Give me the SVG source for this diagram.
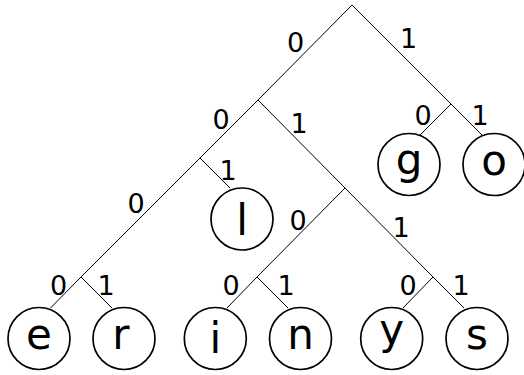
<svg xmlns="http://www.w3.org/2000/svg" width="524" height="375" viewBox="0 0 524 375">
  <style>
    .edge { stroke: #000; stroke-width: 1; fill: none; }
    .leaf circle { fill: #fff; stroke: #000; stroke-width: 1.7; }
    .leaf text { font-family: "DejaVu Sans", sans-serif; font-size: 42px; text-anchor: middle; fill: #000; }
    .bit { font-family: "DejaVu Sans", sans-serif; font-size: 27px; text-anchor: middle; fill: #000; }
  </style>
  <rect width="524" height="375" fill="#fff"/>

  <!-- branches of the code tree -->
  <g id="edges">
    <path class="edge" d="M352,5 L258,100 M352,5 L451,104"/>
    <path class="edge" d="M258,100 L200,158 M258,100 L345,188"/>
    <path class="edge" d="M451,104 L420,135 M451,104 L482,135"/>
    <path class="edge" d="M200,158 L81,277 M200,158 L230,188"/>
    <path class="edge" d="M345,188 L257,277 M345,188 L433,277"/>
    <path class="edge" d="M81,277 L50.5,308 M81,277 L112,308"/>
    <path class="edge" d="M257,277 L227,308 M257,277 L288,308"/>
    <path class="edge" d="M433,277 L403,308 M433,277 L464,308"/>
  </g>

  <!-- bit labels on the branches -->
  <g id="bits" class="bit">
    <text x="295.5" y="52">0</text>
    <text x="408.5" y="48">1</text>
    <text x="221" y="128.5">0</text>
    <text x="299" y="133">1</text>
    <text x="423" y="125">0</text>
    <text x="480" y="125">1</text>
    <text x="228" y="180">1</text>
    <text x="136" y="213">0</text>
    <text x="298" y="230">0</text>
    <text x="401" y="237">1</text>
    <text x="58.5" y="295">0</text>
    <text x="106" y="295">1</text>
    <text x="231" y="295">0</text>
    <text x="286" y="295">1</text>
    <text x="408" y="295">0</text>
    <text x="461" y="295">1</text>
  </g>

  <!-- leaves -->
  <g id="leaf-g" class="leaf"><circle cx="409" cy="164.5" r="31"/><text x="409" y="173.5">g</text></g>
  <g id="leaf-o" class="leaf"><circle cx="494" cy="164.5" r="31"/><text x="494" y="175.3">o</text></g>
  <g id="leaf-l" class="leaf"><circle cx="242" cy="219" r="31"/><text x="242" y="235">l</text></g>
  <g id="leaf-e" class="leaf"><circle cx="39" cy="338.5" r="31"/><text x="39" y="349.3">e</text></g>
  <g id="leaf-r" class="leaf"><circle cx="124" cy="338.5" r="31"/><text x="121" y="349">r</text></g>
  <g id="leaf-i" class="leaf"><circle cx="215.3" cy="338.5" r="31"/><text x="215.3" y="353">i</text></g>
  <g id="leaf-n" class="leaf"><circle cx="300.5" cy="338.5" r="31"/><text x="300.5" y="349">n</text></g>
  <g id="leaf-y" class="leaf"><circle cx="391.7" cy="338.5" r="31"/><text x="391.7" y="344.2">y</text></g>
  <g id="leaf-s" class="leaf"><circle cx="477" cy="338.5" r="31"/><text x="477" y="349.3">s</text></g>
</svg>
